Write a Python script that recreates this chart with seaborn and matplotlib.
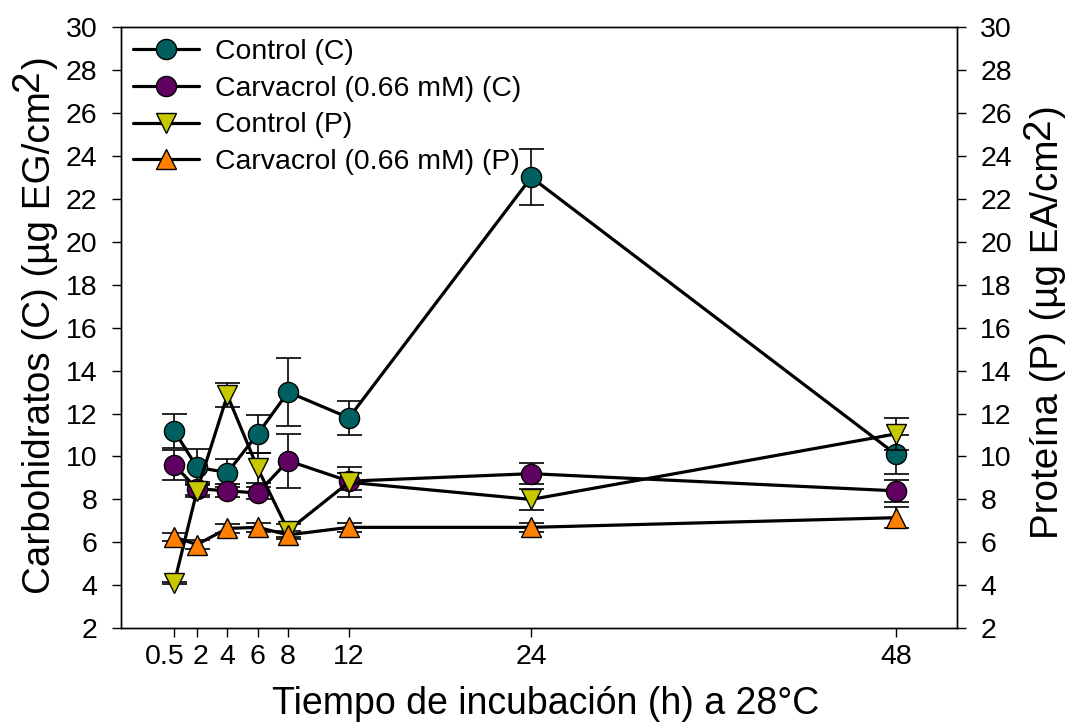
import numpy as np
import pandas as pd
import matplotlib
matplotlib.use("Agg")
import matplotlib.pyplot as plt
import matplotlib.transforms as mtransforms
import seaborn as sns

# Sampling times (h)
tiempo = [0.5, 2, 4, 6, 8, 12, 24, 48]
tick_labels = ["0.5", "2", "4", "6", "8", "12", "24", "48"]

# Carbohydrates (µg EG/cm²), mean and error
control_c = [11.2, 9.5, 9.25, 11.05, 13.0, 11.8, 23.0, 10.1]
control_c_err = [0.8, 0.85, 0.65, 0.9, 1.6, 0.8, 1.3, 0.9]
carvacrol_c = [9.6, 8.5, 8.4, 8.3, 9.8, 8.85, 9.2, 8.4]
carvacrol_c_err = [0.7, 0.3, 0.3, 0.3, 1.25, 0.4, 0.5, 0.5]

# Protein (µg EA/cm²), mean and error
control_p = [4.1, 8.4, 12.85, 9.45, 6.55, 8.8, 8.0, 11.05]
control_p_err = [0.05, 0.3, 0.55, 0.7, 0.3, 0.7, 0.5, 0.75]
carvacrol_p = [6.25, 5.9, 6.65, 6.7, 6.35, 6.7, 6.7, 7.15]
carvacrol_p_err = [0.2, 0.2, 0.2, 0.2, 0.2, 0.2, 0.2, 0.5]

labels = ["Control (C)", "Carvacrol (0.66 mM) (C)", "Control (P)", "Carvacrol (0.66 mM) (P)"]
colors = ["#006060", "#600060", "#C8C800", "#FF8000"]
markers = ["o", "o", "v", "^"]

sns.set_theme(style="ticks")
plt.rcParams["font.family"] = ["Liberation Sans", "DejaVu Sans"]
plt.rcParams["text.color"] = "black"
plt.rcParams["axes.labelcolor"] = "black"

W, H = 1068, 722
fig = plt.figure(figsize=(W / 100, H / 100), dpi=100)
ax = fig.add_axes([0.1133, 0.1298, 0.7825, 0.8328])
ax2 = ax.twinx()

series = [
    (ax, control_c, control_c_err),
    (ax, carvacrol_c, carvacrol_c_err),
    (ax2, control_p, control_p_err),
    (ax2, carvacrol_p, carvacrol_p_err),
]

handles = []
for (a, vals, errs), lab, col, mk in zip(series, labels, colors, markers):
    a.errorbar(tiempo, vals, yerr=errs, fmt="none", ecolor="black",
               elinewidth=1.2, capsize=9, capthick=1.2, zorder=2)
    df = pd.DataFrame({"t": tiempo, "v": vals})
    sns.lineplot(data=df, x="t", y="v", ax=a, color="black", linewidth=2.3,
                 marker=mk, markersize=14.5, markerfacecolor=col,
                 markeredgecolor="black", markeredgewidth=1.0,
                 label=lab, legend=False, zorder=3)
    handles.append(a.lines[-1])

for a in (ax, ax2):
    a.set_ylabel("")
    a.set_ylim(2, 30)
    a.set_yticks(np.arange(2, 31, 2))
    a.tick_params(axis="both", direction="out", length=6.5, width=1.0,
                  labelsize=20.5, colors="black")
    a.tick_params(axis="y", pad=10.5)
    a.tick_params(axis="x", pad=5)
    for sp in a.spines.values():
        sp.set_linewidth(1.0)
        sp.set_color("black")

ax.set_xlim(-3, 52)
ax.set_xticks(tiempo)
ax.set_xticklabels(tick_labels)

# nudge the two crowded labels at the start of the time axis apart
shifts = {"0.5": -9, "2": 4}
for lbl in ax.get_xticklabels():
    dx = shifts.get(lbl.get_text(), 0)
    if dx:
        lbl.set_transform(lbl.get_transform() +
                          mtransforms.ScaledTranslation(dx / 100, 0, fig.dpi_scale_trans))

ax.set_xlabel("Tiempo de incubación (h) a 28°C", fontsize=27, labelpad=11)
ax.xaxis.label.set_x(0.5086)

ax.legend(handles=handles, labels=labels, loc="upper left", frameon=False,
          fontsize=20.4, handlelength=2.35, handletextpad=0.55,
          labelspacing=0.38, borderaxespad=0.0, borderpad=0.42,
          bbox_to_anchor=(0.0, 1.0))


def vertical_label(x_base, y_mid, main, sup, tail, size, lift):
    """Rotated axis title with a full-size raised superscript (pixel coords)."""
    renderer = fig.canvas.get_renderer()
    kw = dict(rotation=90, rotation_mode="anchor", ha="left", va="baseline",
              fontsize=size, transform=mtransforms.IdentityTransform())
    parts = [fig.text(0, 0, s, **kw) for s in (main, sup, tail)]
    lengths = [p.get_window_extent(renderer).height for p in parts]
    y = y_mid - sum(lengths) / 2
    offsets = [0, lift, 0]
    for p, L, off in zip(parts, lengths, offsets):
        p.set_position((x_base - off, y))
        y += L


fig.canvas.draw()
vertical_label(50, H - 325, "Carbohidratos (C) (µg EG/cm", "2", ")", 27.8, 12)
vertical_label(1058, H - 322, "Proteína (P) (µg EA/cm", "2", ")", 27.8, 9)

fig.savefig("out.png", dpi=100)
